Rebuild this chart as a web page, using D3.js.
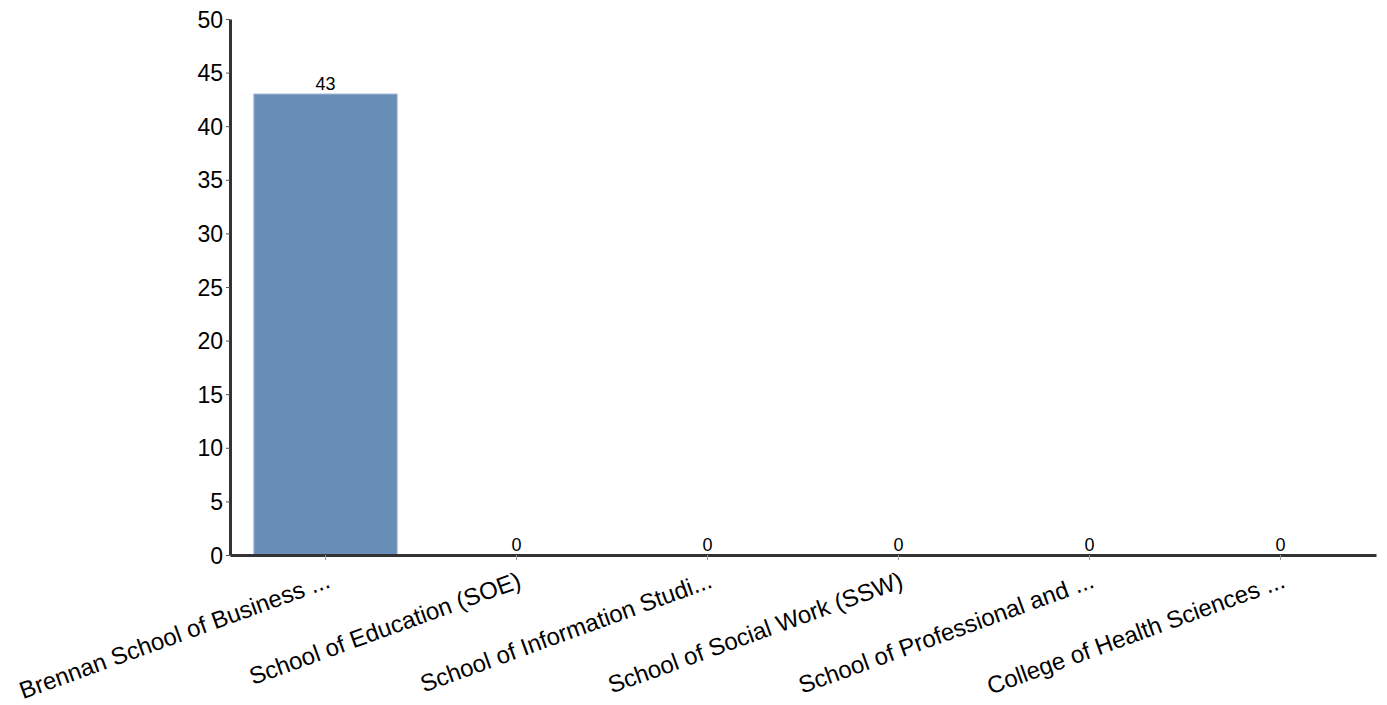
<!DOCTYPE html>
<html><head><meta charset="utf-8">
<script src="https://cdn.jsdelivr.net/npm/d3@7"></script>
<style>body{margin:0;background:#fff}svg{display:block}</style>
</head><body><svg id="c" width="1387" height="705"></svg>
<script>
const categories = ["Brennan School of Business ...","School of Education (SOE)","School of Information Studi...","School of Social Work (SSW)","School of Professional and ...","College of Health Sciences ..."];
const values = [43,0,0,0,0,0];
const yTicks = [0,5,10,15,20,25,30,35,40,45,50];

(function(){
const svg = d3.select("#c");
const mLeft = 230, mRight = 1376, mTop = 19, mBottom = 555;
const x = d3.scaleBand().domain(categories).range([mLeft,mRight]).paddingInner(0.25).paddingOuter(0.125);
const y = d3.scaleLinear().domain([0,50]).range([mBottom,mTop]);

svg.append("g").selectAll("rect").data(values).join("rect")
  .attr("x",(d,i)=>x(categories[i])).attr("width",x.bandwidth())
  .attr("y",d=>y(d)).attr("height",d=>mBottom-y(d))
  .attr("fill","#688db7").attr("stroke","#9fb6d2").attr("stroke-width",1);

svg.append("g").selectAll("text").data(values).join("text")
  .attr("x",(d,i)=>x(categories[i])+x.bandwidth()/2).attr("y",d=>y(d)-4)
  .attr("text-anchor","middle").attr("font-family","Liberation Sans, Arial, sans-serif")
  .attr("font-size",18).attr("fill","#000").text(d=>d);

const ya = svg.append("g").attr("transform",`translate(${mLeft},0)`)
  .call(d3.axisLeft(y).tickValues(yTicks).tickSize(4).tickSizeOuter(0));
ya.select(".domain").attr("stroke","#333").attr("stroke-width",3);
ya.selectAll(".tick line").attr("stroke","#555");
ya.selectAll(".tick text").attr("font-family","Liberation Sans, Arial, sans-serif").attr("font-size",23).attr("fill","#000").attr("x",-7).attr("dy","0.35em");

const xa = svg.append("g").attr("transform",`translate(0,${mBottom})`)
  .call(d3.axisBottom(x).tickSize(5).tickSizeOuter(0));
xa.select(".domain").attr("stroke","#333").attr("stroke-width",3);
xa.selectAll(".tick line").attr("stroke","#999");
xa.selectAll(".tick text").attr("font-family","Liberation Sans, Arial, sans-serif").attr("font-size",24).attr("fill","#000")
  .attr("text-anchor","end").attr("dy",0).attr("y",0)
  .attr("transform","translate(6,32) rotate(-20)");
})();
</script></body></html>
